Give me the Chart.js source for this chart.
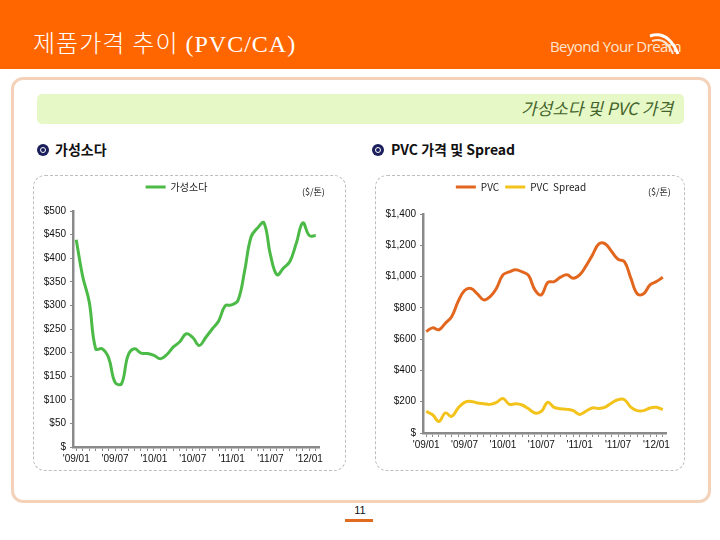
<!DOCTYPE html>
<html>
<head>
<meta charset="utf-8">
<script src="https://cdn.jsdelivr.net/npm/chart.js@4.4.1/dist/chart.umd.min.js"></script>
<style>
  body { margin: 0; width: 720px; height: 540px; background: #fff; position: relative; overflow: hidden;
         font-family: "Noto Sans CJK KR", "Noto Sans", sans-serif; }
  .abs { position: absolute; }
  #header { left: 0; top: 0; width: 720px; height: 69px; background: #ff6600; }
  #title { left: 33px; top: 24px; color: #fff; font-family: "Liberation Serif", "Noto Sans CJK KR", serif;
           font-size: 24px; font-weight: 300; letter-spacing: 1px; white-space: nowrap; }
  #logo { left: 550px; top: 36px; color: #fde4d2; font-family: "Open Sans", sans-serif; font-size: 15px; letter-spacing: -0.6px; white-space: nowrap; }
  #frame { left: 11px; top: 77px; width: 694px; height: 420px; border: 3px solid #f4d2ba; border-radius: 12px; }
  #banner { left: 37px; top: 94px; width: 647px; height: 30px; background: #e6f8c6; border-radius: 5px; }
  #bannerText { right: 47px; top: 95px; color: #43632a; font-size: 17px; font-style: italic; white-space: nowrap; }
  .head { font-size: 14px; font-weight: bold; color: #111; white-space: nowrap; }
  .dot { width: 12px; height: 12px; border-radius: 50%; background: #1b1f5c; }
  .dot::after { content: ""; position: absolute; left: 3px; top: 3px; width: 4px; height: 4px; border: 1px solid #fff; border-radius: 50%; }
  .box { border: 1px dashed #bdbdbd; border-radius: 12px; }
  .unit { font-size: 9px; color: #222; white-space: nowrap; }
  #pageNo { left: 350px; top: 504px; width: 20px; text-align: center; font-family: "Liberation Sans", sans-serif; font-size: 11px; color: #111; }
  #pageBar { left: 345px; top: 519px; width: 28px; height: 3px; background: #e06b1e; }
</style>
</head>
<body>
<div id="header" class="abs"></div>
<div id="title" class="abs">제품가격 추이 (PVC/CA)</div>
<div id="logo" class="abs">Beyond Your Dream</div>
<svg class="abs" style="left:646px;top:28px" width="36" height="28" viewBox="0 0 36 28">
  <path d="M4 8 Q22 2 32 26" stroke="#fff" stroke-width="3" fill="none"/>
  <path d="M6 13 Q20 8 27 26" stroke="#fde4d2" stroke-width="2" fill="none"/>
</svg>
<div id="frame" class="abs"></div>
<div id="banner" class="abs"></div>
<div id="bannerText" class="abs">가성소다 및 PVC 가격</div>

<div class="abs dot" style="left:37px;top:144px"></div>
<div class="abs head" style="left:55px;top:139px">가성소다</div>
<div class="abs dot" style="left:372px;top:144px"></div>
<div class="abs head" style="left:391px;top:139px">PVC 가격 및 Spread</div>

<div class="abs box" style="left:33px;top:175px;width:311px;height:294px"></div>
<div class="abs box" style="left:375px;top:175px;width:308px;height:294px"></div>

<div class="abs" style="left:34px;top:176px;width:310px;height:293px"><canvas id="causticChart"></canvas></div>
<div class="abs" style="left:376px;top:176px;width:306px;height:293px"><canvas id="pvcChart"></canvas></div>

<div class="abs unit" style="left:302px;top:185px">($/톤)</div>
<div class="abs unit" style="left:648px;top:185px">($/톤)</div>

<div id="pageNo" class="abs">11</div>
<div id="pageBar" class="abs"></div>

<script>
// 월별 라벨 ('09/01 ~ '12/02)
const months = [
  "'09/01","'09/02","'09/03","'09/04","'09/05","'09/06","'09/07","'09/08","'09/09","'09/10","'09/11","'09/12",
  "'10/01","'10/02","'10/03","'10/04","'10/05","'10/06","'10/07","'10/08","'10/09","'10/10","'10/11","'10/12",
  "'11/01","'11/02","'11/03","'11/04","'11/05","'11/06","'11/07","'11/08","'11/09","'11/10","'11/11","'11/12",
  "'12/01","'12/02"
];

// 가성소다 ($/톤)
const causticSoda = [
  439, 361, 308, 208, 208, 189, 137, 134, 194, 208, 199, 198,
  194, 187, 196, 212, 223, 240, 232, 215, 232, 250, 267, 299,
  301, 311, 372, 445, 464, 475, 407, 365, 379, 393, 432, 475,
  448, 448
];

// PVC 가격 ($/톤)
const pvcPrice = [
  649, 672, 660, 702, 745, 841, 911, 924, 890, 851, 872, 926,
  1011, 1030, 1043, 1030, 1007, 915, 883, 962, 968, 996, 1011, 990,
  1011, 1068, 1138, 1209, 1209, 1160, 1111, 1096, 990, 890, 890, 947,
  968, 996
];

// PVC Spread ($/톤)
const pvcSpread = [
  138, 117, 74, 128, 106, 160, 196, 202, 192, 187, 183, 196,
  221, 183, 187, 179, 155, 128, 138, 196, 164, 155, 151, 143,
  119, 140, 160, 157, 166, 192, 213, 213, 166, 143, 143, 160,
  164, 149
];

const axisGray = '#8a8a8a';
const tickFont = { family: 'Liberation Sans', size: 10 };

function money(v) {
  return v === 0 ? '$' : '$' + v.toLocaleString('en-US');
}

function legendLabels(chart) {
  return Chart.defaults.plugins.legend.labels.generateLabels(chart)
    .map(l => ({ ...l, lineWidth: 0, fillStyle: l.strokeStyle }));
}

// 범례 아래 여백을 조금 더 준다
const legendGap = {
  id: 'legendGap',
  beforeInit(chart, args, opts) {
    const fit = chart.legend.fit;
    chart.legend.fit = function () {
      fit.bind(chart.legend)();
      this.height += opts.gap || 0;
    };
  }
};

function makeLine(label, data, color) {
  return {
    label: label, data: data,
    borderColor: color, backgroundColor: color,
    borderWidth: 3, pointRadius: 0, tension: 0.4, fill: false
  };
}

function makeConfig(datasets, yMax, yStep, yWidth, gap, pad) {
  return {
    type: 'line',
    data: { labels: months, datasets: datasets },
    plugins: [legendGap],
    options: {
      responsive: true, maintainAspectRatio: false, animation: false,
      layout: { padding: pad },
      plugins: {
        legendGap: { gap: gap },
        legend: {
          display: true, position: 'top',
          labels: {
            boxWidth: 20, boxHeight: 3, padding: 6,
            color: '#222', font: { family: 'Noto Sans CJK KR', size: 10 },
            generateLabels: legendLabels
          }
        },
        tooltip: { enabled: false }
      },
      scales: {
        x: {
          offset: true,
          border: { color: axisGray, width: 2.5 },
          grid: { drawOnChartArea: false, color: axisGray, tickLength: 4, lineWidth: 1 },
          ticks: {
            autoSkip: false, maxRotation: 0, color: '#111', font: tickFont, padding: 2,
            callback: (v, i) => (i % 6 === 0 ? months[i] : '')
          }
        },
        y: {
          min: 0, max: yMax,
          afterFit: s => { s.width = yWidth; },
          border: { color: axisGray, width: 2.5 },
          grid: { drawOnChartArea: false, color: axisGray, tickLength: 3, lineWidth: 1 },
          ticks: { stepSize: yStep, color: '#111', font: tickFont, padding: 4, callback: money }
        }
      }
    }
  };
}

new Chart(document.getElementById('causticChart'), makeConfig(
  [makeLine('가성소다', causticSoda, '#4cba46')],
  500, 50, 39, 9, { top: 0, right: 25, bottom: 2, left: 0 }
));

new Chart(document.getElementById('pvcChart'), makeConfig(
  [makeLine('PVC', pvcPrice, '#e2661e'), makeLine('PVC  Spread', pvcSpread, '#f3c31c')],
  1400, 200, 47, 12, { top: 0, right: 16, bottom: 16, left: 0 }
));
</script>
</body>
</html>
